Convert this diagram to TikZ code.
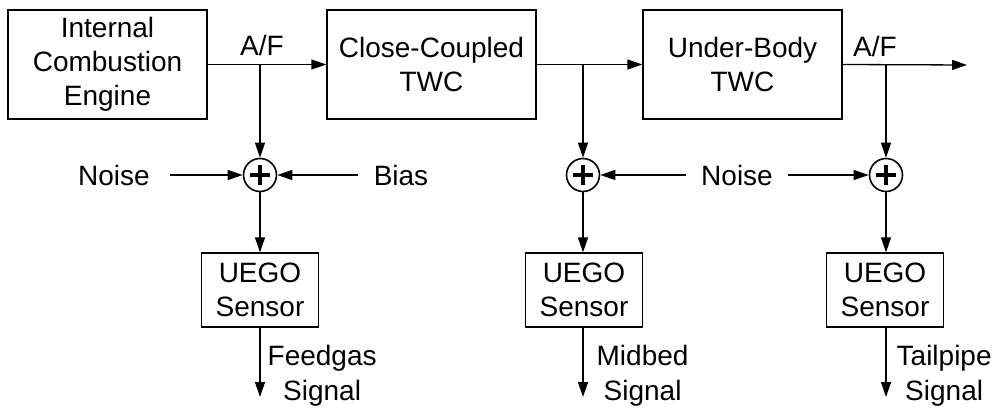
\documentclass[tikz,border=0pt]{standalone}
\usepackage{fontspec}
\setmainfont{Liberation Sans}
\usetikzlibrary{arrows.meta}
\begin{document}
\begin{tikzpicture}[x=1pt,y=-1pt,
  font=\fontsize{28}{34}\selectfont,
  line width=1.3pt,
  blk/.style={draw,rectangle,align=center,inner sep=0pt,line width=1.3pt},
  sumnode/.style={draw,circle,minimum size=33pt,inner sep=0pt,line width=1.6pt},
  lbl/.style={inner sep=0pt,align=center},
  sig/.style={inner sep=0pt,align=center,anchor=west,font=\fontsize{28}{35}\selectfont},
  arr/.style={-{Triangle[length=15pt,width=10pt]}}]
\useasboundingbox (0,0) rectangle (995,411);
% main blocks
\node[blk,minimum width=199pt,minimum height=109pt] (ice) at (107.5,64.5) {Internal\\Combustion\\Engine};
\node[blk,minimum width=209pt,minimum height=109pt] (cc) at (431.5,64.5) {Close-Coupled\\TWC};
\node[blk,minimum width=199pt,minimum height=109pt] (ub) at (742.5,64.5) {Under-Body\\TWC};
% branch points
\coordinate (b1) at (260,65);
\coordinate (b2) at (583,65);
\coordinate (b3) at (886,65);
\coordinate (out) at (967,65);
% summing junctions
\foreach \n/\x in {s1/260,s2/583,s3/886}{
  \node[sumnode] (\n) at (\x,175) {};
  \draw[line width=3.2pt] ([xshift=-10pt]\n.center) -- ([xshift=10pt]\n.center)
                          ([yshift=-10pt]\n.center) -- ([yshift=10pt]\n.center);
}
% sensors
\node[blk,minimum width=117pt,minimum height=74pt] (u1) at (260,290) {UEGO\\Sensor};
\node[blk,minimum width=117pt,minimum height=74pt] (u2) at (584,290) {UEGO\\Sensor};
\node[blk,minimum width=117pt,minimum height=74pt] (u3) at (885,290) {UEGO\\Sensor};
\coordinate (o1) at (260,397);
\coordinate (o2) at (583,397);
\coordinate (o3) at (886,397);
% labels
\node[lbl] (af1) at (262,45) {A/F};
\node[lbl] (af2) at (875,46) {A/F};
\node[lbl,inner xsep=20pt] (n1) at (114,175) {Noise};
\node[lbl,inner xsep=15pt] (bias) at (401,175) {Bias};
\node[lbl,inner xsep=15pt] (n2) at (737,175) {Noise};
\node[sig] (fs) at (267,376) {Feedgas\\Signal};
\node[sig] (ms) at (596,376) {Midbed\\Signal};
\node[sig] (ts) at (896,376) {Tailpipe\\Signal};
% connectors
\draw[arr] (ice.east) -- (cc.west);
\draw[arr] (cc.east) -- (ub.west);
\draw[arr] (ub.east) -- (out);
\draw[arr] (b1) -- (s1.north);
\draw[arr] (b2) -- (s2.north);
\draw[arr] (b3) -- (s3.north);
\draw[arr] (s1.south) -- (u1.north -| s1);
\draw[arr] (s2.south) -- (u2.north -| s2);
\draw[arr] (s3.south) -- (u3.north -| s3);
\draw[arr] (u1.south -| o1) -- (o1);
\draw[arr] (u2.south -| o2) -- (o2);
\draw[arr] (u3.south -| o3) -- (o3);
\draw[arr] (n1.east) -- (s1.west);
\draw[arr] (bias.west) -- (s1.east);
\draw[arr] (n2.west) -- (s2.east);
\draw[arr] (n2.east) -- (s3.west);
\end{tikzpicture}
\end{document}
